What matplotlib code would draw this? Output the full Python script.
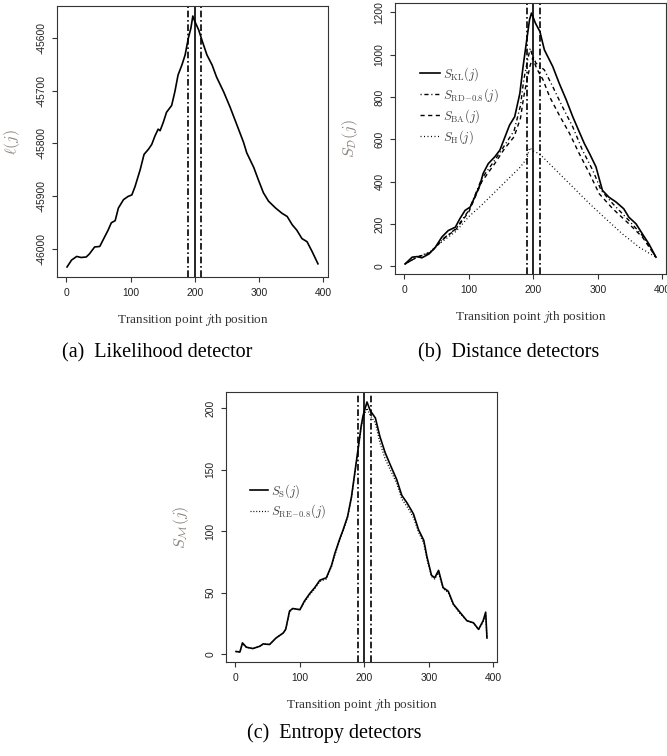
import numpy as np
import matplotlib.pyplot as plt

plt.rcParams['mathtext.fontset'] = 'cm'
plt.rcParams['axes.unicode_minus'] = False

SANS = 'Liberation Sans'
SERIF = 'Liberation Serif'

# ---- data ----
x_ticks = [0, 100, 200, 300, 400]
change_points = [190, 200, 210]

# (a) likelihood detector
j_lik = [1, 8, 16, 23, 31, 36, 44, 52, 57, 65, 70, 76, 81, 89, 96, 102, 107, 115,
         121, 128, 133, 138, 143, 146, 151, 156, 164, 169, 174, 180, 185, 190, 194,
         197, 200, 206, 211, 219, 227, 234, 245, 255, 266, 276, 281, 292, 299, 307,
         315, 326, 336, 344, 352, 359, 367, 375, 383, 392]
lik = [-46035, -46022, -46015, -46017, -46016, -46010, -45997, -45996, -45984,
       -45965, -45951, -45947, -45923, -45907, -45901, -45898, -45882, -45850,
       -45821, -45811, -45802, -45786, -45773, -45776, -45760, -45741, -45728,
       -45702, -45670, -45651, -45632, -45600, -45581, -45558, -45568, -45584,
       -45603, -45632, -45651, -45674, -45702, -45731, -45766, -45798, -45818,
       -45846, -45869, -45894, -45910, -45923, -45933, -45939, -45955, -45965,
       -45981, -45987, -46006, -46029]
lik_ticks = [-46000, -45900, -45800, -45700, -45600]

# (b) distance detectors
j_kl = [1, 12, 20, 27, 38, 48, 58, 68, 79, 86, 94, 102, 109, 117, 122, 130, 140,
        148, 156, 163, 171, 179, 184, 189, 194, 197, 203, 210, 217, 230, 240, 251,
        261, 271, 279, 287, 297, 302, 307, 317, 328, 340, 348, 359, 369, 379, 390]
kl = [11, 43, 46, 40, 58, 90, 138, 169, 185, 225, 264, 280, 327, 383, 438, 485,
      517, 549, 612, 667, 707, 817, 944, 1055, 1165, 1197, 1150, 1110, 1023, 944,
      865, 786, 707, 636, 580, 533, 470, 414, 359, 327, 304, 272, 232, 201, 153,
      106, 43]

j_rd = [1, 20, 40, 60, 80, 100, 120, 140, 155, 170, 180, 185, 190, 195, 198, 204,
        217, 230, 245, 261, 276, 292, 305, 323, 348, 369, 390]
rd = [11, 44, 65, 130, 178, 265, 415, 501, 570, 640, 760, 880, 960, 1030, 1000,
      960, 928, 849, 754, 659, 549, 454, 359, 296, 217, 145, 43]

j_ba = [1, 20, 40, 60, 80, 100, 120, 140, 155, 170, 180, 185, 190, 195, 199, 205,
        215, 225, 240, 256, 271, 287, 302, 323, 348, 369, 390]
ba = [11, 44, 63, 128, 175, 258, 400, 485, 555, 612, 700, 801, 880, 950, 985, 935,
      881, 802, 715, 628, 533, 438, 343, 272, 201, 138, 43]

j_h = [1, 20, 40, 60, 80, 100, 120, 140, 160, 180, 190, 194, 200, 210, 235, 261,
       287, 312, 338, 364, 390]
h = [11, 43, 70, 120, 165, 235, 290, 350, 410, 470, 510, 560, 545, 530, 454, 375,
     296, 225, 153, 90, 43]
dist_ticks = [0, 200, 400, 600, 800, 1000, 1200]

# (c) entropy detectors
j_ent = [1, 7, 11, 17, 27, 38, 43, 53, 63, 74, 78, 84, 89, 100, 107, 115, 123, 131,
         141, 149, 154, 162, 167, 174, 180, 185, 190, 195, 198, 204, 209, 217, 224,
         232, 240, 250, 258, 266, 276, 284, 292, 297, 304, 309, 315, 322, 330, 338,
         348, 359, 369, 377, 384, 388, 390]
s_s = [2, 1.6, 9, 5.5, 4.4, 6.3, 8.2, 7.7, 13, 17, 20, 35, 37, 36, 43, 49, 54, 60,
       62, 72, 81.5, 94, 101, 112, 128, 147, 166, 185.5, 194, 205, 198, 192, 177,
       164, 154, 142, 129, 123, 114, 101, 92.5, 79, 64, 62, 68, 54, 51, 40.5, 34,
       27, 25.4, 20, 27, 34, 13]
s_re = [2, 1.6, 8.5, 5.5, 4.4, 6.3, 8, 7.7, 13, 17, 20, 34, 37, 36, 42, 48, 53, 59,
        61, 71, 80, 93, 100, 111, 127, 146, 165, 184, 192, 200, 194, 188, 172, 159,
        150, 139, 126, 120, 111, 99, 90, 77, 63, 61, 66, 53, 50, 40, 33, 27, 25,
        20, 26, 32, 13]
ent_ticks = [0, 50, 100, 150, 200]

W, H = 667, 756
fig = plt.figure(figsize=(W / 100, H / 100), dpi=100)


def px_axes(left, top, right, bottom):
    return fig.add_axes([left / W, 1 - bottom / H, (right - left) / W, (bottom - top) / H])


def style(ax, yticks, ylabel):
    for sp in ax.spines.values():
        sp.set_color('#333333')
        sp.set_linewidth(0.8)
    ax.margins(0.04)
    ax.set_xticks(x_ticks)
    ax.set_yticks(yticks)
    ax.tick_params(direction='out', length=3.6, width=0.8, color='#333333',
                   labelsize=7.4, labelcolor='#222222', pad=4)
    for lab in ax.get_xticklabels() + ax.get_yticklabels():
        lab.set_family(SANS)
    for lab in ax.get_yticklabels():
        lab.set_rotation(90)
        lab.set_va('center')
    for x, ls in zip(change_points, ['dashdot', '-', 'dashdot']):
        ln = ax.axvline(x, color='black', lw=1.2, ls=ls)
        if ls == 'dashdot':
            ln.set_dashes((4, 1.6, 1, 1.6))
    ax.set_xlabel(r'Transition point $j$th position', family=SERIF, fontsize=9.5,
                  color='#333333')
    ax.xaxis.set_label_coords(0.5, -0.17)
    ax.xaxis.label.set_va('baseline')
    ax.set_ylabel(ylabel, fontsize=11.5, color='#8c8480')
    ax.yaxis.set_label_coords(-0.165, 0.5)
    ax.yaxis.label.set_va('center')


# (a)
ax1 = px_axes(57, 6, 328, 277)
ax1.plot(j_lik, lik, color='black', lw=1.2)
style(ax1, lik_ticks, r'$\ell(j)$')

# (b)
ax2 = px_axes(395, 3, 666, 274)
ax2.plot(j_kl, kl, color='black', lw=1.2, label=r'$S_{\mathrm{KL}}(j)$')
ax2.plot(j_rd, rd, color='black', lw=1.0, dashes=(0.8, 2, 3, 2),
         label=r'$S_{\mathrm{RD\!-\!0.8}}(j)$')
ax2.plot(j_ba, ba, color='black', lw=1.0, dashes=(3, 2.5), label=r'$S_{\mathrm{BA}}(j)$')
ax2.plot(j_h, h, color='black', lw=0.9, dashes=(0.8, 2), label=r'$S_{\mathrm{H}}(j)$')
style(ax2, dist_ticks, r'$S_{\mathcal{D}}(j)$')
ax2.legend(loc='upper left', bbox_to_anchor=(0.094, 0.77), frameon=False, fontsize=9,
           handlelength=1.6, handletextpad=0.2, borderpad=0, borderaxespad=0,
           labelspacing=0.25, labelcolor='#444444')

# (c)
ax3 = px_axes(226, 392, 497, 662)
ax3.plot(j_ent, s_s, color='black', lw=1.2, label=r'$S_{\mathrm{S}}(j)$')
ax3.plot(j_ent, s_re, color='black', lw=0.9, dashes=(0.8, 1.5),
         label=r'$S_{\mathrm{RE\!-\!0.8}}(j)$')
style(ax3, ent_ticks, r'$S_{\mathcal{M}}(j)$')
ax3.legend(loc='upper left', bbox_to_anchor=(0.089, 0.665), frameon=False, fontsize=9,
           handlelength=1.45, handletextpad=0.25, borderpad=0, borderaxespad=0,
           labelspacing=0.2, labelcolor='#444444')

# captions
cap = dict(family=SERIF, fontsize=14.5, ha='center', va='baseline', color='black')
fig.text(157 / W, 1 - 357 / H, '(a)  Likelihood detector', **cap)
fig.text(509 / W, 1 - 357 / H, '(b)  Distance detectors', **cap)
fig.text(334 / W, 1 - 738 / H, '(c)  Entropy detectors', **cap)

fig.savefig('out.png', dpi=100)
